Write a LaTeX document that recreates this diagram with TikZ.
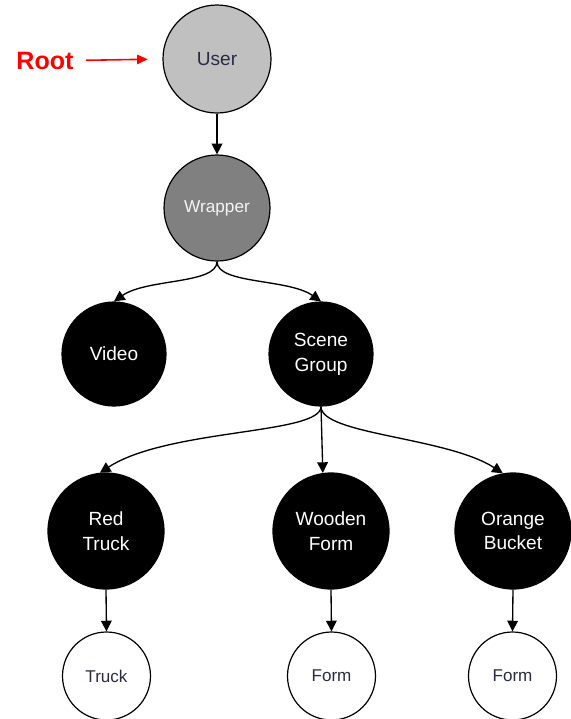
\documentclass[tikz,border=0pt]{standalone}
\usepackage{fontspec}
\setmainfont{Liberation Sans}
\usetikzlibrary{arrows.meta}

\definecolor{usergray}{HTML}{C0C0C0}
\definecolor{wrapgray}{HTML}{808080}
\definecolor{inkdark}{HTML}{2B2B45}

\begin{document}
\begin{tikzpicture}
	[x=0.75pt,y=-0.75pt,
	 nd/.style={circle, draw, line width=0.9pt, inner sep=0pt, align=center,
	   font=\fontsize{14.3}{18.5}\selectfont},
	 usernd/.style={nd, fill=usergray, text=inkdark, minimum size=81pt},
	 wrapnd/.style={nd, fill=wrapgray, text=white!92!gray, minimum size=79.5pt,
	   font=\fontsize{12.9}{15}\selectfont},
	 blacknd/.style={nd, fill=black, text=white, minimum size=78pt},
	 bignd/.style={blacknd, minimum size=87pt},
	 leafnd/.style={nd, fill=white, text=inkdark, minimum size=66pt,
	   font=\fontsize{12.8}{15}\selectfont},
	 arr/.style={line width=1pt, -{Triangle[length=8pt,width=8pt]}}]
	\useasboundingbox (0,0) rectangle (571,719);

	\node[usernd] (user) at (217,59) {User};
	\node[wrapnd] (wrap) at (217,208) {Wrapper};
	\node[blacknd] (video) at (114,354) {Video};
	\node[blacknd] (scene) at (321,354) {Scene\\Group};
	\node[bignd] (redtruck) at (106,531) {Red\\Truck};
	\node[bignd] (woodform) at (331,531) {Wooden\\Form};
	\node[bignd] (orbucket) at (513,531) {Orange\\Bucket};
	\node[leafnd] (truck) at (106.5,676) {Truck};
	\node[leafnd] (form1) at (331.5,676) {Form};
	\node[leafnd] (form2) at (512.5,676) {Form};

	\node[inner sep=0pt, text=red, font=\fontsize{18.8}{20}\selectfont\bfseries] (root) at (45,60.5) {Root};
	\draw[red, line width=1.2pt, -{Triangle[length=8pt,width=7pt]}, shorten <=9pt, shorten >=11pt] (root.east) -- (user.west);

	% straight links
	\foreach \from/\to in {user.south/wrap.north,scene.south/woodform.98,redtruck.south/truck.north,woodform.south/form1.north,orbucket.south/form2.north}
	\draw[arr] (\from) -- (\to);

	% curved links
	\foreach \from/\to/\ang/\outd/\ind in {wrap.south/video.north/35/17/30,wrap.south/scene.north/145/17/30,scene.south/redtruck.96/33/21/61,scene.south/orbucket.100/147/21/50}
	\draw[arr] (\from) to[out=-90, in=\ang, out distance=\outd pt, in distance=\ind pt] (\to);
\end{tikzpicture}
\end{document}
